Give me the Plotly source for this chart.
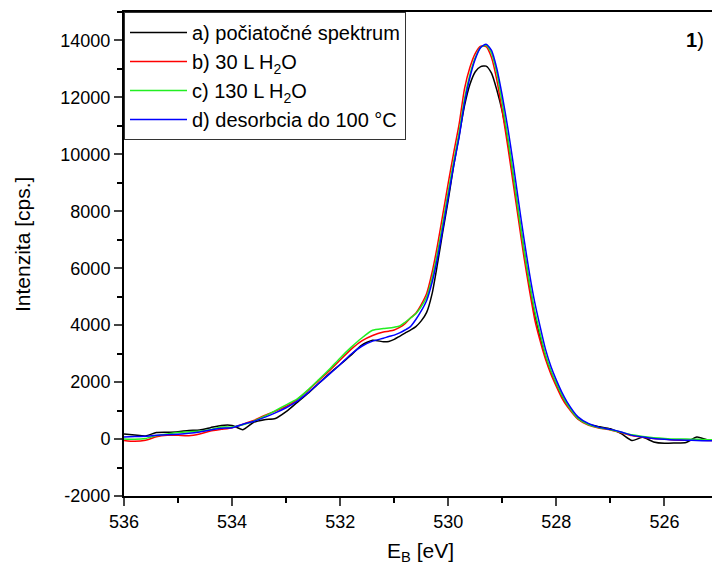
import plotly.graph_objects as go

# Binding energy grid (eV)
energy = [536.0, 535.8, 535.6, 535.4, 535.2, 535.0, 534.8, 534.6, 534.4, 534.2,
          534.0, 533.8, 533.6, 533.4, 533.2, 533.0, 532.8, 532.6, 532.4, 532.2,
          532.0, 531.8, 531.6, 531.4, 531.2,
          531.1, 531.0, 530.9, 530.8, 530.7, 530.6, 530.5, 530.4, 530.3, 530.2,
          530.1, 530.0, 529.9, 529.8, 529.7, 529.6, 529.5, 529.4, 529.3, 529.2,
          529.1, 529.0, 528.9, 528.8, 528.7, 528.6, 528.5, 528.4, 528.3, 528.2,
          528.1, 528.0, 527.9, 527.8,
          527.6, 527.4, 527.2, 527.0, 526.8, 526.6, 526.4, 526.2, 526.0, 525.8,
          525.6, 525.4, 525.2, 525.0]

a_initial = [175, 140, 110, 230, 240, 260, 300, 320, 400, 480,
             480, 330, 590, 680, 720, 960, 1280, 1600, 1950, 2300,
             2620, 2950, 3300, 3470, 3420,
             3430, 3500, 3610, 3720, 3830, 3950, 4150, 4450, 5100, 6150,
             7300, 8400, 9600, 10650, 11700, 12450, 12900, 13080, 13100, 12850,
             12250, 11500, 10500, 9250, 7900, 6650, 5450, 4400, 3600, 2900,
             2350, 1920, 1520, 1200,
             720, 520, 430, 360, 190, -50, 60, -100, -150, -140,
             -120, 70, -30, -40]

b_30L = [-50, -80, -40, 80, 130, 130, 120, 180, 280, 340,
         400, 520, 650, 830, 980, 1150, 1380, 1700, 2050, 2400,
         2780, 3150, 3450, 3640, 3760,
         3790, 3830, 3920, 4050, 4250, 4420, 4720, 5110, 5850, 6800,
         7900, 9000, 10050, 11050, 12300, 13050, 13550, 13800, 13780, 13400,
         12600, 11500, 10300, 9000, 7700, 6400, 5250, 4200, 3450, 2800,
         2280, 1850, 1450, 1150,
         700, 480, 380, 320, 220, 120, 60, 20, 0, -30,
         -40, -40, -50, -50]

c_130L = [0, -10, 20, 120, 180, 230, 260, 280, 330, 420,
          420, 500, 630, 800, 1000, 1200, 1400, 1720, 2080, 2450,
          2850, 3220, 3550, 3820, 3880,
          3900, 3930, 3970, 4100, 4250, 4400, 4650, 4990, 5650, 6550,
          7600, 8700, 9750, 10750, 11950, 12800, 13400, 13760, 13830, 13550,
          12850, 11800, 10600, 9300, 7950, 6650, 5500, 4500, 3700, 2950,
          2400, 1950, 1550, 1220,
          720, 500, 400, 330, 240, 150, 90, 50, 20, 0,
          0, -10, -20, -20]

d_desorb = [70, 90, 100, 130, 150, 170, 200, 250, 320, 380,
            400, 520, 620, 760, 920, 1100, 1320, 1620, 1950, 2280,
            2620, 2980, 3260, 3440, 3540,
            3600, 3650, 3730, 3830, 3950, 4200, 4500, 4870, 5500, 6350,
            7400, 8500, 9600, 10600, 11800, 12700, 13350, 13750, 13870, 13650,
            13000, 12050, 10950, 9700, 8350, 7050, 5850, 4800, 3950, 3150,
            2550, 2070, 1650, 1300,
            780, 540, 410, 340, 250, 130, 70, 20, -10, -30,
            -40, -50, -60, -60]

names = ["a) počiatočné spektrum", "b) 30 L H<sub>2</sub>O",
         "c) 130 L H<sub>2</sub>O", "d) desorbcia do 100 °C"]
series = [a_initial, b_30L, c_130L, d_desorb]
colors = ["#000000", "#ff0000", "#22ee22", "#0000ff"]

x_ticks = [536, 534, 532, 530, 528, 526]
x_tick_labels = ["536", "534", "532", "530", "528", "526"]
y_ticks = [-2000, 0, 2000, 4000, 6000, 8000, 10000, 12000, 14000]
y_tick_labels = ["-2000", "0", "2000", "4000", "6000", "8000", "10000", "12000", "14000"]

FONT = "Liberation Sans, Arial, sans-serif"

fig = go.Figure()
for name, ys, col in zip(names, series, colors):
    fig.add_trace(go.Scatter(x=energy, y=ys, name=name, mode="lines",
                             line=dict(color=col, width=1.5, shape="spline", smoothing=0.6)))

fig.update_layout(
    width=712, height=572,
    margin=dict(l=124, r=0, t=12, b=76),
    plot_bgcolor="white", paper_bgcolor="white",
    font=dict(family=FONT, size=18, color="black"),
    showlegend=True,
    legend=dict(x=0, y=1, xanchor="left", yanchor="top",
                bgcolor="white", bordercolor="#333333", borderwidth=1,
                font=dict(family=FONT, size=20, color="black"),
                tracegroupgap=0, itemwidth=57),
)
fig.update_xaxes(
    range=[536, 525.12], tickvals=x_ticks, ticktext=x_tick_labels,
    ticks="outside", ticklen=8, tickwidth=1.5,
    showline=True, linecolor="black", linewidth=2, mirror=True,
    showgrid=False, zeroline=False,
    minor=dict(dtick=1, ticks="outside", ticklen=5, tickwidth=1.5, tickcolor="black", showgrid=False),
    tickfont=dict(size=18),
)
fig.update_yaxes(
    range=[-2000, 15000], tickvals=y_ticks, ticktext=y_tick_labels,
    ticks="outside", ticklen=8, tickwidth=1.5,
    showline=True, linecolor="black", linewidth=2,
    showgrid=False, zeroline=False,
    minor=dict(dtick=1000, ticks="outside", ticklen=5, tickwidth=1.5, tickcolor="black", showgrid=False),
    tickfont=dict(size=18),
)

pw, ph = 712 - 124, 572 - 12 - 76


def px_to_paper(px, py):
    return (px - 124) / pw, (572 - 76 - py) / ph


for text, (px, py), angle, size in [
    ("Intenzita [cps.]", (22, 245), -90, 21),
    ("E<sub>B</sub> [eV]", (421, 552), 0, 21),
    ("<b>1</b>)", (695, 40), 0, 20),
]:
    xp, yp = px_to_paper(px, py)
    fig.add_annotation(text=text, x=xp, y=yp, xref="paper", yref="paper",
                       xanchor="center", yanchor="middle",
                       showarrow=False, textangle=angle, font=dict(size=size))

fig.write_html("out.html")
